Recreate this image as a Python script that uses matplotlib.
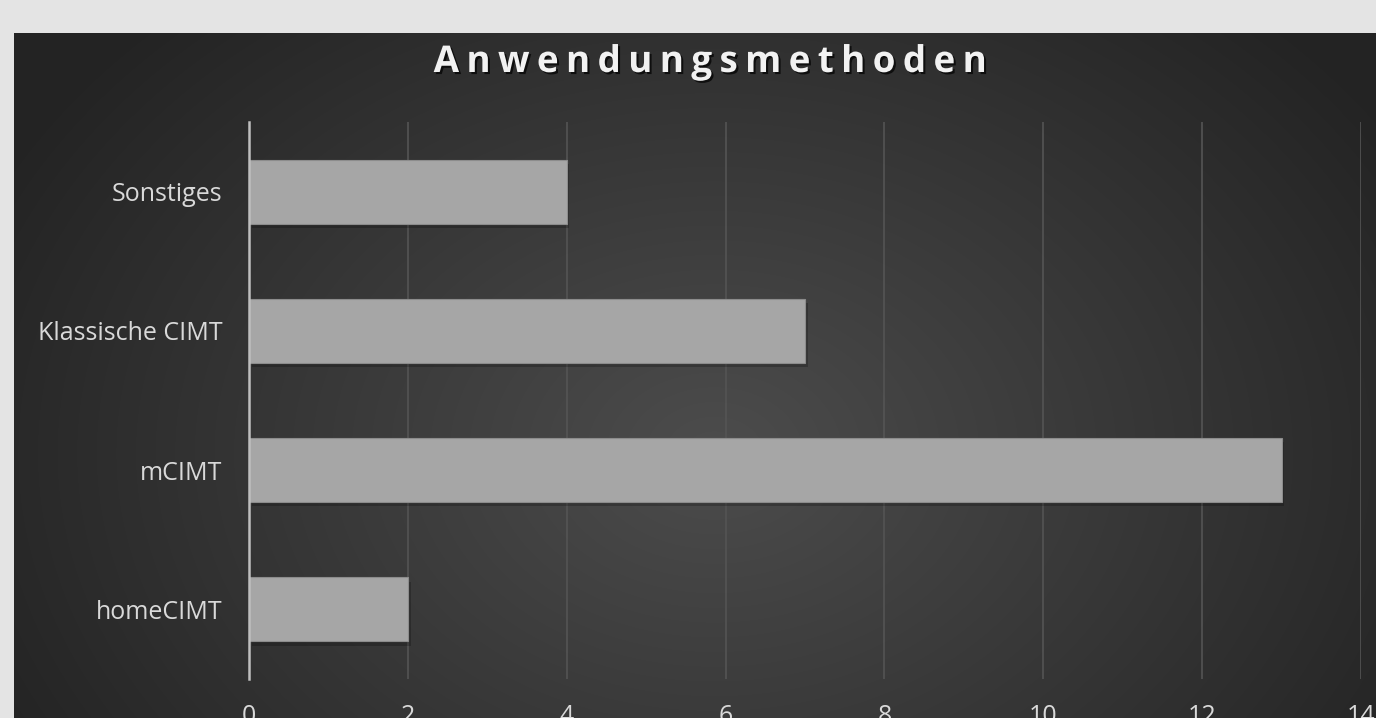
import matplotlib
matplotlib.use("Agg")
import matplotlib.pyplot as plt
import matplotlib.patheffects as pe
import numpy as np

categories = ["homeCIMT", "mCIMT", "Klassische CIMT", "Sonstiges"]
counts = [2, 13, 7, 4]
x_ticks = [0, 2, 4, 6, 8, 10, 12, 14]

W, H = 1376, 718
fig = plt.figure(figsize=(W / 100, H / 100), dpi=100)
fig.patch.set_facecolor("#e4e4e4")

# dark panel with radial gradient
left_px, top_px = 14, 33
bg = fig.add_axes([left_px / W, 0, 1 - left_px / W, (H - top_px) / H])
yy, xx = np.mgrid[0:H - top_px, 0:W - left_px]
cx, cy = 700, 420
r = np.sqrt(((xx - cx) / 800.0) ** 2 + ((yy - cy) / 600.0) ** 2)
shade = 0.30 - 0.16 * np.clip(r, 0, 1)
bg.imshow(np.dstack([shade] * 3), aspect="auto", interpolation="bilinear")
bg.set_axis_off()

ax = fig.add_axes([249 / W, (H - 679) / H, (1361 - 249) / W, (679 - 122) / H])
ax.patch.set_alpha(0)

y = np.arange(len(categories))
bars = ax.barh(y, counts, height=0.46, color="#a6a6a6", edgecolor="#8c8c8c",
               linewidth=0.8, zorder=3)
for b in bars:
    b.set_path_effects([pe.SimplePatchShadow(offset=(2, -3), shadow_rgbFace="black", alpha=0.22),
                        pe.Normal()])

ax.set_xlim(0, 14)
ax.set_ylim(-0.5, 3.5)
ax.set_xticks(x_ticks)
ax.set_yticks(y)
ax.set_yticklabels(categories)
ax.grid(axis="x", color="#545454", linewidth=1.2, zorder=0)
for s in ["top", "right", "bottom"]:
    ax.spines[s].set_visible(False)
ax.spines["left"].set_color("#bfbfbf")
ax.spines["left"].set_linewidth(1.8)
ax.spines["left"].set_zorder(4)
ax.tick_params(length=0, colors="#d9d9d9", labelsize=18)
ax.tick_params(axis="y", pad=19)
ax.tick_params(axis="x", pad=18)
for lab in ax.get_xticklabels() + ax.get_yticklabels():
    lab.set_fontfamily("Open Sans")

fig.text(710 / W, 1 - 62 / H, "\u2009".join("Anwendungsmethoden"),
         ha="center", va="center", color="#f2f2f2", fontsize=26.5, fontweight="bold",
         family=["Open Sans", "DejaVu Sans"],
         path_effects=[pe.withSimplePatchShadow(offset=(1.5, -1.5), shadow_rgbFace="black", alpha=0.7)])

fig.savefig("out.png", dpi=100, facecolor=fig.get_facecolor())
